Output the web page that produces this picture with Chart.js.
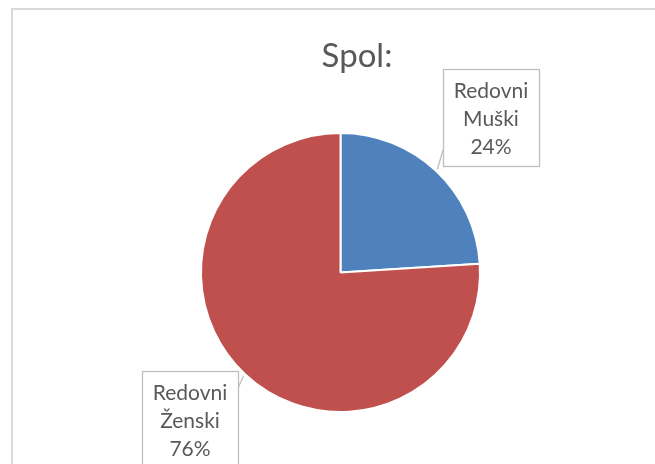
<!DOCTYPE html>
<html>
<head>
<meta charset="utf-8">
<script src="https://cdn.jsdelivr.net/npm/chart.js@4"></script>
<style>
  html, body { margin: 0; padding: 0; background: #fff; }
  #wrap { width: 655px; height: 464px; }
</style>
</head>
<body>
<div id="wrap"><canvas id="chart" width="655" height="464"></canvas></div>
<script>
const title = 'Spol:';
const categories = ['Redovni Muški', 'Redovni Ženski'];
const values = [24, 76];
const sliceColors = ['#4F81BD', '#C0504D'];

// callout boxes for the data labels (x, y, w, h, side where the leader joins, y of the join)
const calloutBoxes = [
    { x: 443, y: 69, w: 96, h: 97, side: 'left', joinY: 150 },
    { x: 142, y: 371, w: 96, h: 110, side: 'right', joinY: 388 }
];

const total = values.reduce((a, b) => a + b, 0);

const decorPlugin = {
    id: 'decor',
    beforeDraw(chart) {
        const ctx = chart.ctx;
        ctx.save();
        ctx.fillStyle = '#ffffff';
        ctx.fillRect(0, 0, chart.width, chart.height);
        // outer chart frame
        ctx.strokeStyle = '#D9D9D9';
        ctx.lineWidth = 2;
        ctx.beginPath();
        ctx.moveTo(12, chart.height + 5);
        ctx.lineTo(12, 9);
        ctx.lineTo(chart.width + 5, 9);
        ctx.stroke();
        ctx.restore();
    },
    afterDraw(chart) {
        const ctx = chart.ctx;
        ctx.save();
        // title
        ctx.fillStyle = '#595959';
        ctx.font = '33px Lato';
        ctx.textAlign = 'center';
        ctx.textBaseline = 'alphabetic';
        ctx.fillText(title, 357, 67);

        const meta = chart.getDatasetMeta(0);
        meta.data.forEach((arc, i) => {
            const box = calloutBoxes[i];
            const mid = (arc.startAngle + arc.endAngle) / 2;
            const ax = arc.x + Math.cos(mid) * (arc.outerRadius + 2);
            const ay = arc.y + Math.sin(mid) * (arc.outerRadius + 2);
            const jx = box.side === 'left' ? box.x : box.x + box.w;

            ctx.strokeStyle = '#BFBFBF';
            ctx.lineWidth = 1.3;
            ctx.beginPath();
            ctx.moveTo(ax, ay);
            ctx.lineTo(jx, box.joinY);
            ctx.stroke();

            ctx.fillStyle = '#ffffff';
            ctx.fillRect(box.x, box.y, box.w, box.h);
            ctx.strokeRect(box.x + 0.5, box.y + 0.5, box.w, box.h);

            const parts = categories[i].split(' ');
            const pct = Math.round(values[i] / total * 100) + '%';
            const lines = parts.concat([pct]);
            ctx.fillStyle = '#595959';
            ctx.font = '21px Lato';
            ctx.textAlign = 'center';
            ctx.textBaseline = 'middle';
            lines.forEach((t, k) => {
                ctx.fillText(t, box.x + box.w / 2, box.y + 22 + k * 28);
            });
        });
        ctx.restore();
    }
};

const ctx = document.getElementById('chart').getContext('2d');
new Chart(ctx, {
    type: 'pie',
    data: {
        labels: categories,
        datasets: [{
            data: values,
            backgroundColor: sliceColors,
            borderColor: '#ffffff',
            borderWidth: 2
        }]
    },
    options: {
        responsive: false,
        animation: false,
        layout: {
            padding: { top: 132, bottom: 51, left: 200, right: 174 }
        },
        plugins: {
            legend: { display: false },
            title: { display: false },
            tooltip: { enabled: false }
        }
    },
    plugins: [decorPlugin]
});
</script>
</body>
</html>
